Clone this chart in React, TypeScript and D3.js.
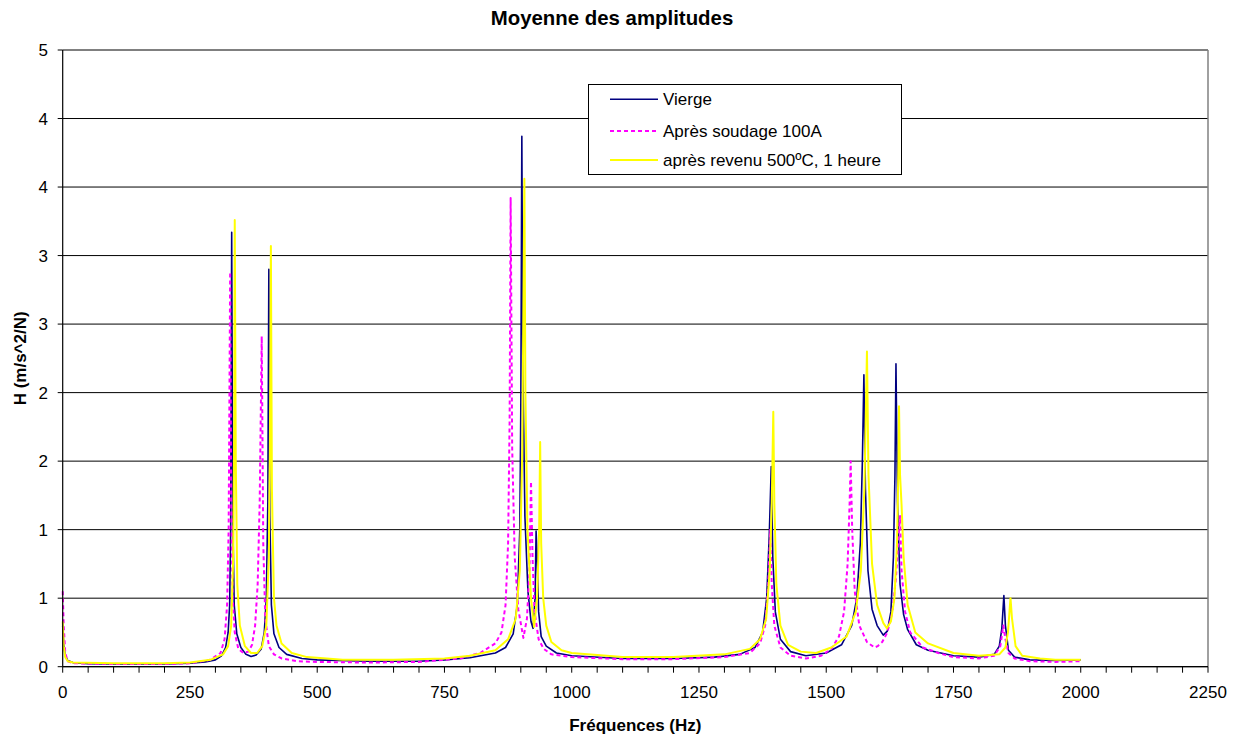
import * as d3 from "d3";

const width = 1236;
const height = 735;
const marginLeft = 62.7;
const marginRight = 28;
const marginTop = 50;
const marginBottom = 68.3;

// [fréquence (Hz), amplitude]
const vierge: [number, number][] = [
  [0, 0.3], [2, 0.17], [5, 0.08], [10, 0.045], [20, 0.03], [50, 0.022], [100, 0.02],
  [150, 0.02], [200, 0.02], [250, 0.025], [280, 0.035], [300, 0.05], [312, 0.08],
  [320, 0.14], [325, 0.25], [328, 0.45], [330, 1.0], [332, 3.17], [334, 1.1], [337, 0.45],
  [342, 0.24], [350, 0.14], [360, 0.09], [370, 0.075], [380, 0.085], [390, 0.13],
  [396, 0.25], [400, 0.5], [403, 1.2], [405, 2.9], [407, 1.1], [410, 0.45], [415, 0.24],
  [425, 0.14], [440, 0.09], [470, 0.06], [500, 0.05], [600, 0.04], [700, 0.04],
  [750, 0.05], [800, 0.065], [850, 0.1], [870, 0.14], [885, 0.24], [893, 0.45],
  [898, 1.0], [900, 1.9], [902, 3.87], [904, 2.2], [908, 1.1], [914, 0.55], [920, 0.33],
  [924, 0.28], [928, 0.5], [930, 0.99], [932, 0.8], [935, 0.4], [940, 0.22], [950, 0.15],
  [970, 0.1], [1000, 0.08], [1100, 0.06], [1200, 0.06], [1280, 0.07], [1330, 0.09],
  [1360, 0.14], [1375, 0.25], [1383, 0.5], [1388, 0.95], [1392, 1.46], [1395, 0.8],
  [1400, 0.4], [1410, 0.2], [1430, 0.11], [1460, 0.08], [1500, 0.1], [1530, 0.16],
  [1550, 0.3], [1560, 0.5], [1567, 0.9], [1571, 1.5], [1574, 2.13], [1577, 1.3],
  [1582, 0.7], [1590, 0.42], [1600, 0.3], [1612, 0.23], [1620, 0.26], [1627, 0.4],
  [1632, 0.8], [1635, 1.4], [1637, 2.21], [1640, 1.2], [1645, 0.6], [1652, 0.38],
  [1660, 0.27], [1677, 0.16], [1700, 0.12], [1750, 0.08], [1800, 0.07], [1830, 0.09],
  [1840, 0.15], [1845, 0.28], [1849, 0.52], [1852, 0.3], [1858, 0.12], [1870, 0.07],
  [1900, 0.05], [1950, 0.045], [2000, 0.05],
];

const soudage: [number, number][] = [
  [0, 0.55], [2, 0.3], [5, 0.1], [10, 0.04], [20, 0.025], [100, 0.02], [200, 0.02],
  [250, 0.025], [290, 0.05], [310, 0.1], [318, 0.2], [323, 0.45], [326, 1.0], [329, 2.88],
  [331, 1.2], [334, 0.5], [338, 0.25], [345, 0.13], [355, 0.1], [365, 0.11], [372, 0.16],
  [378, 0.3], [383, 0.6], [387, 1.2], [391, 2.41], [394, 0.9], [398, 0.35], [405, 0.15],
  [415, 0.09], [430, 0.06], [460, 0.04], [500, 0.035], [600, 0.03], [700, 0.035],
  [780, 0.06], [820, 0.1], [850, 0.17], [862, 0.25], [870, 0.45], [875, 0.9], [878, 1.8],
  [880, 3.42], [883, 1.6], [888, 0.8], [895, 0.42], [905, 0.21], [912, 0.35], [917, 0.7],
  [920, 1.35], [923, 0.8], [927, 0.4], [935, 0.2], [945, 0.13], [960, 0.09], [1000, 0.07],
  [1100, 0.055], [1200, 0.055], [1300, 0.07], [1350, 0.1], [1370, 0.17], [1380, 0.3],
  [1386, 0.6], [1390, 1.0], [1393, 0.6], [1398, 0.3], [1410, 0.14], [1430, 0.08],
  [1460, 0.06], [1490, 0.08], [1510, 0.13], [1525, 0.22], [1535, 0.4], [1542, 0.75],
  [1546, 1.2], [1548, 1.5], [1551, 1.0], [1556, 0.55], [1565, 0.3], [1580, 0.18],
  [1595, 0.14], [1601, 0.15], [1610, 0.18], [1620, 0.25], [1630, 0.4], [1637, 0.65],
  [1642, 0.95], [1645, 1.1], [1648, 0.7], [1655, 0.4], [1665, 0.25], [1690, 0.14],
  [1720, 0.1], [1750, 0.07], [1800, 0.06], [1830, 0.08], [1842, 0.15], [1848, 0.3],
  [1852, 0.2], [1858, 0.1], [1870, 0.06], [1900, 0.04], [1950, 0.035], [2000, 0.04],
];

const revenu: [number, number][] = [
  [0, 0.33], [2, 0.15], [5, 0.07], [10, 0.04], [20, 0.03], [100, 0.025], [200, 0.025],
  [250, 0.03], [290, 0.05], [315, 0.09], [325, 0.15], [331, 0.3], [335, 0.8], [337, 1.8],
  [338, 3.26], [340, 1.5], [343, 0.6], [348, 0.3], [358, 0.15], [370, 0.1], [382, 0.1],
  [392, 0.15], [400, 0.3], [405, 0.8], [407, 1.6], [409, 3.07], [411, 1.3], [415, 0.5],
  [420, 0.3], [430, 0.17], [450, 0.1], [480, 0.07], [550, 0.05], [650, 0.05], [750, 0.06],
  [800, 0.08], [850, 0.12], [875, 0.2], [890, 0.35], [898, 0.7], [903, 1.6], [905, 2.6],
  [907, 3.56], [909, 2.0], [913, 1.0], [920, 0.5], [926, 0.29], [932, 0.5], [936, 1.0],
  [938, 1.64], [940, 0.9], [944, 0.5], [950, 0.3], [960, 0.18], [980, 0.12], [1000, 0.1],
  [1100, 0.07], [1200, 0.07], [1300, 0.09], [1350, 0.13], [1370, 0.2], [1382, 0.35],
  [1389, 0.7], [1393, 1.2], [1396, 1.86], [1398, 1.2], [1402, 0.6], [1410, 0.3],
  [1425, 0.16], [1450, 0.11], [1480, 0.1], [1510, 0.14], [1540, 0.22], [1558, 0.4],
  [1568, 0.7], [1575, 1.3], [1578, 1.9], [1580, 2.3], [1583, 1.4], [1590, 0.75],
  [1600, 0.45], [1612, 0.32], [1619, 0.28], [1627, 0.33], [1634, 0.5], [1639, 0.9],
  [1642, 1.5], [1643, 1.9], [1645, 1.4], [1648, 1.18], [1652, 0.8], [1660, 0.45],
  [1675, 0.25], [1700, 0.17], [1750, 0.1], [1800, 0.08], [1840, 0.09], [1852, 0.14],
  [1857, 0.25], [1860, 0.4], [1862, 0.5], [1865, 0.35], [1872, 0.15], [1885, 0.08],
  [1920, 0.06], [1950, 0.05], [2000, 0.05],
];

const xTicks = [0, 250, 500, 750, 1000, 1250, 1500, 1750, 2000, 2250];
const yTicks = [0, 0.5, 1, 1.5, 2, 2.5, 3, 3.5, 4, 4.5];
const yTickLabels = ["0", "1", "1", "2", "2", "3", "3", "4", "4", "5"];

const series = [
  { name: "Vierge", data: vierge, color: "#000080", width: 1.6, dash: null },
  { name: "Après soudage 100A", data: soudage, color: "#FF00FF", width: 2, dash: "4,3" },
  { name: "après revenu 500ºC, 1 heure", data: revenu, color: "#FFFF00", width: 2, dash: null },
];

const font = "Arial, 'Liberation Sans', sans-serif";

export default function App() {
  const x = d3.scaleLinear().domain([0, 2250]).range([marginLeft, width - marginRight]);
  const y = d3.scaleLinear().domain([0, 4.5]).range([height - marginBottom, marginTop]);
  const line = d3
    .line<[number, number]>()
    .x((d) => x(d[0]))
    .y((d) => y(d[1]));
  const minorTicks = d3.range(0, 2251, 50);
  const y0 = y(0);

  return (
    <svg
      width={width}
      height={height}
      style={{ position: "absolute", left: 0, top: 0, background: "#fff" }}
      fontFamily={font}
    >
      <rect width={width} height={height} fill="#fff" />
      {/* grid */}
      {yTicks.map((t) => (
        <line key={t} x1={marginLeft} x2={x(2250)} y1={y(t)} y2={y(t)} stroke="#000" strokeWidth={1} />
      ))}
      <line x1={x(2250)} x2={x(2250)} y1={y(4.5)} y2={y0} stroke="#808080" strokeWidth={1.5} />

      {/* series */}
      {series.map((s) => (
        <path
          key={s.name}
          d={line(s.data) ?? ""}
          fill="none"
          stroke={s.color}
          strokeWidth={s.width}
          strokeDasharray={s.dash ?? undefined}
          strokeLinejoin="round"
        />
      ))}

      {/* axes */}
      <line x1={marginLeft} x2={marginLeft} y1={y(4.5)} y2={y0} stroke="#000" strokeWidth={1.2} />
      <line x1={marginLeft} x2={x(2250)} y1={y0} y2={y0} stroke="#000" strokeWidth={1.2} />
      {yTicks.map((t, i) => (
        <g key={t}>
          <line x1={marginLeft - 5} x2={marginLeft} y1={y(t)} y2={y(t)} stroke="#000" />
          <text x={48} y={y(t)} dy="0.36em" textAnchor="end" fontSize={17} fill="#000">
            {yTickLabels[i]}
          </text>
        </g>
      ))}
      {minorTicks.map((t) => (
        <line key={t} x1={x(t)} x2={x(t)} y1={y0} y2={y0 + 6} stroke="#000" />
      ))}
      {xTicks.map((t) => (
        <text key={t} x={x(t)} y={698} textAnchor="middle" fontSize={17} fill="#000">
          {t}
        </text>
      ))}

      {/* titles */}
      <text x={612} y={25} textAnchor="middle" fontSize={20.4} fontWeight="bold">
        Moyenne des amplitudes
      </text>
      <text x={(marginLeft + x(2250)) / 2} y={731} textAnchor="middle" fontSize={17} fontWeight="bold">
        Fréquences (Hz)
      </text>
      <text
        transform={`translate(26,${(marginTop + y0) / 2}) rotate(-90)`}
        textAnchor="middle"
        fontSize={17}
        fontWeight="bold"
      >
        H (m/s^2/N)
      </text>

      {/* legend */}
      <g>
        <rect x={588.5} y={84.5} width={313} height={90} fill="#fff" stroke="#000" strokeWidth={1} />
        {series.map((s, i) => {
          const ly = [99.3, 131, 160][i];
          return (
            <g key={s.name}>
              <line
                x1={610}
                x2={658}
                y1={ly}
                y2={ly}
                stroke={s.color}
                strokeWidth={s.width}
                strokeDasharray={s.dash ?? undefined}
              />
              <text x={663} y={ly} dy="0.36em" fontSize={17} fill="#000">
                {s.name}
              </text>
            </g>
          );
        })}
      </g>
    </svg>
  );
}
